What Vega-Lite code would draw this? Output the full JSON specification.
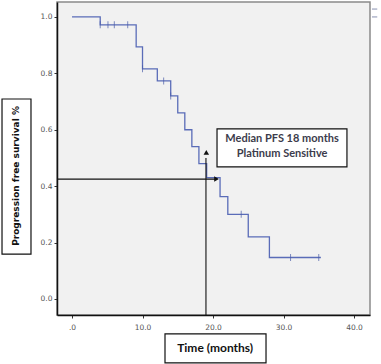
{
  "$schema": "https://vega.github.io/schema/vega-lite/v6.json",
  "width": 313,
  "height": 313,
  "autosize": "none",
  "padding": {"left": 57, "top": 2, "right": 11, "bottom": 49},
  "background": "white",
  "config": {
    "view": {"fill": "#f1f1f1", "stroke": "#8a8a8a", "strokeWidth": 1.5},
    "axis": {
      "grid": false,
      "domainColor": "#111",
      "domainWidth": 1.5,
      "tickColor": "#333",
      "tickSize": 3,
      "labelColor": "#555",
      "labelFont": "DejaVu Sans",
      "labelFontSize": 7.5,
      "title": null
    }
  },
  "datasets": {
    "km": [
      {"t": 0, "s": 1.0},
      {"t": 4.0, "s": 0.972},
      {"t": 9.1, "s": 0.894},
      {"t": 10.0, "s": 0.816},
      {"t": 12.1, "s": 0.773},
      {"t": 14.0, "s": 0.72},
      {"t": 15.0, "s": 0.66},
      {"t": 16.0, "s": 0.60},
      {"t": 17.0, "s": 0.54},
      {"t": 18.0, "s": 0.48},
      {"t": 19.1, "s": 0.43},
      {"t": 21.0, "s": 0.363},
      {"t": 22.1, "s": 0.30},
      {"t": 25.0, "s": 0.22},
      {"t": 28.0, "s": 0.147},
      {"t": 35.3, "s": 0.147}
    ],
    "censor": [
      {"t": 4.0, "s": 0.972},
      {"t": 5.1, "s": 0.972},
      {"t": 6.0, "s": 0.972},
      {"t": 7.9, "s": 0.972},
      {"t": 10.0, "s": 0.816},
      {"t": 13.0, "s": 0.773},
      {"t": 14.0, "s": 0.72},
      {"t": 24.0, "s": 0.30},
      {"t": 31.0, "s": 0.147},
      {"t": 35.0, "s": 0.147}
    ],
    "boxes": [
      {"name": "ytitle", "x": -9.93, "x2": -5.82, "y": 0.709, "y2": 0.159},
      {"name": "xtitle", "x": 13.19, "x2": 27.52, "y": -0.124, "y2": -0.227},
      {"name": "median", "x": 20.57, "x2": 39.0, "y": 0.603, "y2": 0.468}
    ],
    "hrule": [{"x": -2.13, "x2": 20.4, "y": 0.425}],
    "vrule": [{"x": 19.0, "y": -0.057, "y2": 0.50}],
    "heads": [
      {"x": 20.5, "y": 0.425, "dir": "triangle-right"},
      {"x": 19.05, "y": 0.52, "dir": "triangle-up"}
    ],
    "legendbits": [
      {"x": 42.55, "x2": 43.3, "y": 1.028},
      {"x": 42.55, "x2": 43.3, "y": 1.0}
    ]
  },
  "layer": [
    {
      "data": {"name": "km"},
      "mark": {"type": "line", "interpolate": "step-after", "color": "#5a6cb8", "strokeWidth": 1.3},
      "encoding": {
        "x": {"field": "t", "type": "quantitative", "scale": {"domain": [-2.13, 42.27], "nice": false, "zero": false},
          "axis": {"values": [0, 10, 20, 30, 40], "labelExpr": "datum.value == 0 ? '.0' : format(datum.value, '.1f')", "labelPadding": 5}},
        "y": {"field": "s", "type": "quantitative", "scale": {"domain": [-0.057, 1.053], "nice": false, "zero": false},
          "axis": {"values": [0, 0.2, 0.4, 0.6, 0.8, 1.0], "format": ".1f", "labelPadding": 2}}
      }
    },
    {
      "data": {"name": "censor"},
      "mark": {"type": "tick", "orient": "vertical", "color": "#4a5ca8", "size": 7, "thickness": 1},
      "encoding": {
        "x": {"field": "t", "type": "quantitative"},
        "y": {"field": "s", "type": "quantitative"}
      }
    },
    {
      "data": {"name": "hrule"},
      "mark": {"type": "rule", "color": "#111", "strokeWidth": 1.1},
      "encoding": {
        "x": {"field": "x", "type": "quantitative"},
        "x2": {"field": "x2"},
        "y": {"field": "y", "type": "quantitative"}
      }
    },
    {
      "data": {"name": "vrule"},
      "mark": {"type": "rule", "color": "#111", "strokeWidth": 1.1},
      "encoding": {
        "x": {"field": "x", "type": "quantitative"},
        "y": {"field": "y", "type": "quantitative"},
        "y2": {"field": "y2"}
      }
    },
    {
      "data": {"name": "heads"},
      "mark": {"type": "point", "filled": true, "color": "#111", "size": 30, "opacity": 1},
      "encoding": {
        "x": {"field": "x", "type": "quantitative"},
        "y": {"field": "y", "type": "quantitative"},
        "shape": {"field": "dir", "type": "nominal", "scale": null}
      }
    },
    {
      "data": {"name": "boxes"},
      "mark": {"type": "rect", "fill": "white", "stroke": "#111", "strokeWidth": 1.2, "clip": false},
      "encoding": {
        "x": {"field": "x", "type": "quantitative"},
        "x2": {"field": "x2"},
        "y": {"field": "y", "type": "quantitative"},
        "y2": {"field": "y2"}
      }
    },
    {
      "data": {"values": [{"label": "Progression free survival %", "x": -7.95, "y": 0.436}]},
      "mark": {"type": "text", "angle": 270, "font": "DejaVu Sans", "fontWeight": "bold", "fontSize": 9, "color": "#111", "align": "center", "baseline": "middle"},
      "encoding": {
        "x": {"field": "x", "type": "quantitative"},
        "y": {"field": "y", "type": "quantitative"},
        "text": {"field": "label"}
      }
    },
    {
      "data": {"values": [{"label": "Time (months)", "x": 20.3, "y": -0.174}]},
      "mark": {"type": "text", "font": "Lato", "fontWeight": "bold", "fontSize": 12, "color": "#111", "align": "center", "baseline": "middle"},
      "encoding": {
        "x": {"field": "x", "type": "quantitative"},
        "y": {"field": "y", "type": "quantitative"},
        "text": {"field": "label"}
      }
    },
    {
      "data": {"values": [
        {"label": "Median PFS 18 months", "x": 29.8, "y": 0.566},
        {"label": "Platinum Sensitive", "x": 29.8, "y": 0.514}
      ]},
      "mark": {"type": "text", "font": "Lato", "fontWeight": "bold", "fontSize": 11, "color": "#3c3c4c", "align": "center", "baseline": "middle"},
      "encoding": {
        "x": {"field": "x", "type": "quantitative"},
        "y": {"field": "y", "type": "quantitative"},
        "text": {"field": "label"}
      }
    },
    {
      "data": {"name": "legendbits"},
      "mark": {"type": "rule", "color": "#8890b0", "strokeWidth": 1},
      "encoding": {
        "x": {"field": "x", "type": "quantitative"},
        "x2": {"field": "x2"},
        "y": {"field": "y", "type": "quantitative"}
      }
    }
  ]
}
